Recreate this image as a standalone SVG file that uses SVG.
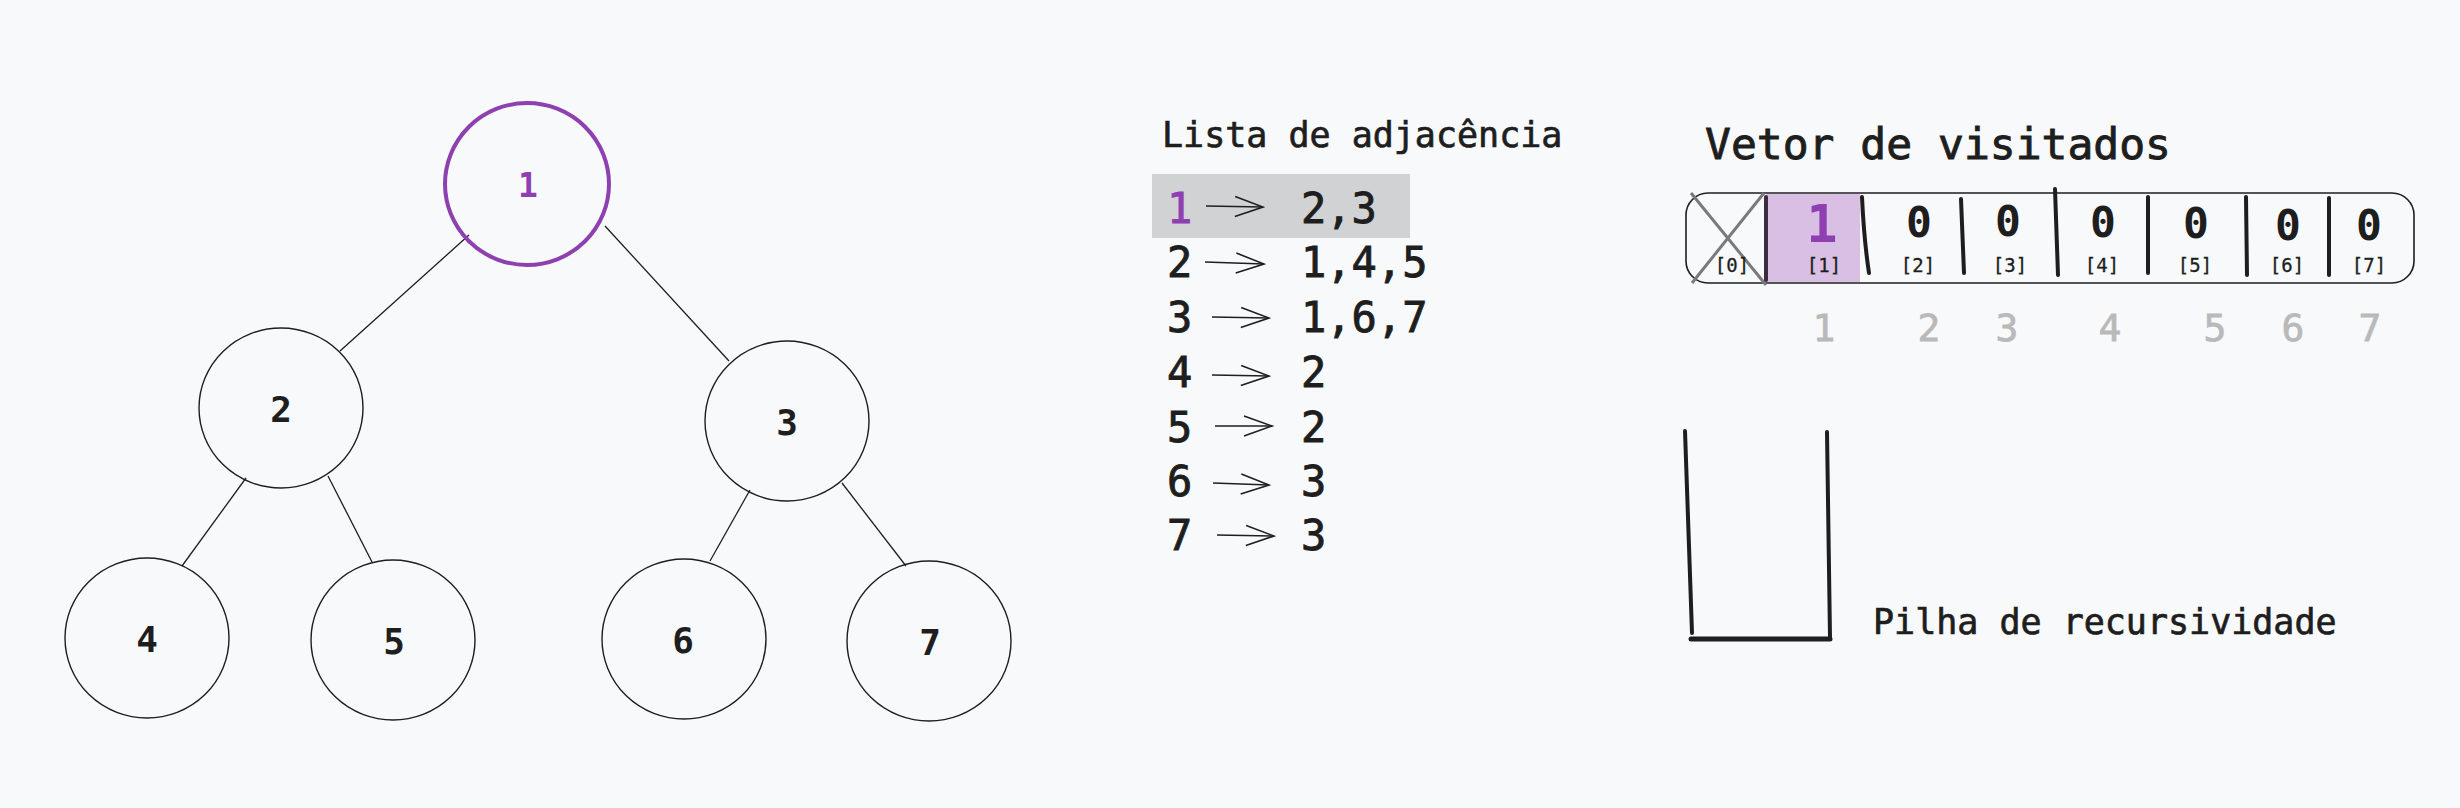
<svg xmlns="http://www.w3.org/2000/svg" width="2460" height="808" viewBox="0 0 2460 808">
<style>
.node{fill:none;stroke:#1e1e1e;stroke-width:1.4}
.nlabel{font-family:"DejaVu Sans Mono",monospace;font-size:36px;font-weight:bold;fill:#1e1e1e;text-anchor:middle}
.edge{stroke:#1e1e1e;stroke-width:1.3;fill:none}
.mono{font-family:"DejaVu Sans Mono",monospace;fill:#1e1e1e;stroke:#1e1e1e;stroke-width:0.7}
.row{font-family:"DejaVu Sans Mono",monospace;font-size:42px;fill:#1e1e1e;stroke:#1e1e1e;stroke-width:0.9}
.arr{stroke:#1e1e1e;stroke-width:1.6;fill:none;marker-end:url(#ah)}
.div{stroke:#1e1e1e;stroke-width:4;stroke-linecap:round;fill:none}
.zero{font-family:"DejaVu Sans Mono",monospace;font-size:43px;font-weight:bold;fill:#1e1e1e;text-anchor:middle}
.idx{font-family:"DejaVu Sans Mono",monospace;font-size:19px;fill:#1e1e1e;text-anchor:middle;stroke:#1e1e1e;stroke-width:0.3}
.gray{font-family:"DejaVu Sans Mono",monospace;font-size:38px;fill:#b9b9b9;stroke:#b9b9b9;stroke-width:0.8;text-anchor:middle}
.stack{stroke:#1e1e1e;stroke-width:4;stroke-linecap:round;fill:none}
</style>
<defs>
<marker id="ah" markerUnits="userSpaceOnUse" markerWidth="32" markerHeight="24" refX="30" refY="12" orient="auto">
<path d="M2,2 L30,12 L2,22" fill="none" stroke="#1e1e1e" stroke-width="1.6"/>
</marker>
</defs>
<rect width="2460" height="808" fill="#f8f9fb"/>

<g id="connectors">
<line class="edge" x1="469" y1="235" x2="340" y2="351"/>
<line class="edge" x1="605" y1="226" x2="729" y2="361"/>
<line class="edge" x1="246" y1="478" x2="182" y2="566"/>
<line class="edge" x1="328" y1="476" x2="372" y2="562"/>
<line class="edge" x1="750" y1="490" x2="710" y2="561"/>
<line class="edge" x1="842" y1="483" x2="906" y2="566"/>
</g>

<g id="node-1">
<ellipse cx="527" cy="184" rx="82" ry="81" fill="none" stroke="#8e3fb0" stroke-width="4"/>
<text x="528" y="197" class="nlabel" style="fill:#8e3fb0;font-size:33px">1</text>
</g>
<g id="node-2">
<ellipse class="node" cx="281" cy="408" rx="82" ry="80"/>
<text x="281" y="422" class="nlabel">2</text>
</g>
<g id="node-3">
<ellipse class="node" cx="787" cy="421" rx="82" ry="80"/>
<text x="787" y="435" class="nlabel">3</text>
</g>
<g id="node-4">
<ellipse class="node" cx="147" cy="638" rx="82" ry="80"/>
<text x="147" y="652" class="nlabel">4</text>
</g>
<g id="node-5">
<ellipse class="node" cx="393" cy="640" rx="82" ry="80"/>
<text x="394" y="654" class="nlabel">5</text>
</g>
<g id="node-6">
<ellipse class="node" cx="684" cy="639" rx="82" ry="80"/>
<text x="683" y="653" class="nlabel">6</text>
</g>
<g id="node-7">
<ellipse class="node" cx="929" cy="641" rx="82" ry="80"/>
<text x="930" y="655" class="nlabel">7</text>
</g>

<g id="adjacency-list">
<text x="1162" y="147" class="mono" font-size="35">Lista de adjacência</text>
<rect x="1152" y="174" width="258" height="64" fill="#d1d2d4"/>
<text x="1167" y="223" class="row" style="fill:#8e3fb0;stroke:#8e3fb0">1</text>
<text x="1301" y="223" class="row">2,3</text>
<text x="1167" y="277" class="row">2</text>
<text x="1301" y="277" class="row">1,4,5</text>
<text x="1167" y="332" class="row">3</text>
<text x="1301" y="332" class="row">1,6,7</text>
<text x="1167" y="387" class="row">4</text>
<text x="1301" y="387" class="row">2</text>
<text x="1167" y="442" class="row">5</text>
<text x="1301" y="442" class="row">2</text>
<text x="1167" y="496" class="row">6</text>
<text x="1301" y="496" class="row">3</text>
<text x="1167" y="550" class="row">7</text>
<text x="1301" y="550" class="row">3</text>
<line class="arr" x1="1206" y1="206" x2="1263" y2="207"/>
<line class="arr" x1="1205" y1="262" x2="1264" y2="264"/>
<line class="arr" x1="1212" y1="317" x2="1269" y2="318"/>
<line class="arr" x1="1212" y1="375" x2="1269" y2="376"/>
<line class="arr" x1="1215" y1="426" x2="1272" y2="426"/>
<line class="arr" x1="1213" y1="483" x2="1269" y2="485"/>
<line class="arr" x1="1217" y1="535" x2="1274" y2="536"/>
</g>

<g id="visited-vector">
<text x="1705" y="159" class="mono" font-size="43" style="stroke-width:0.9">Vetor de visitados</text>
<rect x="1766" y="194" width="94" height="88" fill="#d8bfe3"/>
<rect x="1686" y="193" width="728" height="90" rx="22" ry="22" fill="none" stroke="#1e1e1e" stroke-width="1.6"/>
<line x1="1691" y1="193" x2="1766" y2="285" stroke="#7a7a7a" stroke-width="3"/>
<line x1="1764" y1="193" x2="1692" y2="283" stroke="#7a7a7a" stroke-width="3"/>
<path class="div" d="M1766,197 L1766,280" style="stroke:#3b2c44"/>
<path class="div" d="M1862,197 Q1864,240 1869,273"/>
<path class="div" d="M1961,199 L1964,273"/>
<path class="div" d="M2055,189 L2058,275"/>
<path class="div" d="M2148,197 L2148,273"/>
<path class="div" d="M2246,197 L2247,275"/>
<path class="div" d="M2329,198 L2329,275"/>
<text x="1822" y="242" class="zero" style="fill:#8e3fb0;font-size:52px">1</text>
<text x="1919" y="237" class="zero">0</text>
<text x="2008" y="236" class="zero">0</text>
<text x="2103" y="237" class="zero">0</text>
<text x="2196" y="238" class="zero">0</text>
<text x="2288" y="240" class="zero">0</text>
<text x="2369" y="240" class="zero">0</text>
<text x="1732" y="272" class="idx">[0]</text>
<text x="1824" y="272" class="idx">[1]</text>
<text x="1918" y="272" class="idx">[2]</text>
<text x="2010" y="272" class="idx">[3]</text>
<text x="2102" y="272" class="idx">[4]</text>
<text x="2195" y="272" class="idx">[5]</text>
<text x="2287" y="272" class="idx">[6]</text>
<text x="2369" y="272" class="idx">[7]</text>
<text x="1824" y="341" class="gray">1</text>
<text x="1929" y="341" class="gray">2</text>
<text x="2007" y="341" class="gray">3</text>
<text x="2110" y="341" class="gray">4</text>
<text x="2215" y="341" class="gray">5</text>
<text x="2293" y="341" class="gray">6</text>
<text x="2370" y="341" class="gray">7</text>
</g>

<g id="recursion-stack">
<path class="stack" d="M1685,431 L1692,633"/>
<path class="stack" d="M1827,432 L1830,637"/>
<path class="stack" d="M1691,639 L1830,639" style="stroke-width:5"/>
<text x="1873" y="634" class="mono" font-size="35">Pilha de recursividade</text>
</g>
</svg>
